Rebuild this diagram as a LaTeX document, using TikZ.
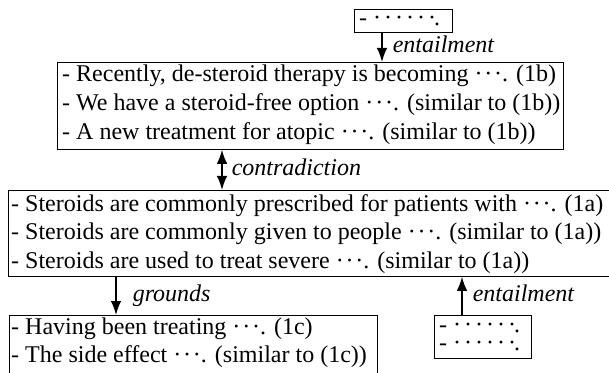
\documentclass[tikz,border=0pt]{standalone}
\usepackage{fontspec}
\setmainfont{Liberation Serif}
\usetikzlibrary{arrows.meta}
\newcommand\mydots{·\kern1.8pt·\kern1.8pt·}
\newcommand\sdot{·\kern3pt}
\newcommand\smalldots{- \sdot\sdot\sdot\sdot\sdot·\kern-2pt.}
\begin{document}
\begin{tikzpicture}[x=1pt,y=1pt,
  box/.style={draw, line width=0.8pt, inner sep=0pt, anchor=north west},
  txt/.style={font=\fontsize{24}{29}\selectfont, inner sep=0pt, anchor=base west},
  dtxt/.style={txt, text height=8pt, text depth=1pt},
  lbl/.style={font=\fontsize{24}{29}\selectfont\itshape, inner sep=0pt, anchor=base west, yshift=-5.5pt},
  arr/.style={line width=1.5pt, -{Latex[length=14pt,width=10.5pt]}},
  darr/.style={line width=1.5pt, {Latex[length=14pt,width=10.5pt]}-{Latex[length=14pt,width=10.5pt]}}]
\useasboundingbox (0,0) rectangle (609,372);
\clip (0,0) rectangle (609,372);
% boxes
\node[box, minimum width=98pt, minimum height=23pt] (top) at (354,363) {};
\node[box, minimum width=506pt, minimum height=87pt] (b1) at (57,310) {};
\node[box, minimum width=640pt, minimum height=86pt] (b2) at (8,182) {};
\node[box, minimum width=368pt, minimum height=90pt] (b3) at (9,57) {};
\node[box, minimum width=97pt, minimum height=43pt] (br) at (434,57) {};
% texts
\node[dtxt] (t0) at (359,346) {\smalldots};
\node[txt] (t11) at (62,290) {- Recently, de-steroid therapy is becoming \mydots. (1b)};
\node[txt] (t12) at (62,261) {- We have a steroid-free option \mydots. (similar to (1b))};
\node[txt] (t13) at (62,232) {- A new treatment for atopic \mydots. (similar to (1b))};
\node[txt] (t21) at (11,160) {- Steroids are commonly prescribed for patients with \mydots. (1a)};
\node[txt] (t22) at (11,132) {- Steroids are commonly given to people \mydots. (similar to (1a))};
\node[txt] (t23) at (11,104) {- Steroids are used to treat severe \mydots. (similar to (1a))};
\node[txt] (t31) at (11,38) {- Having been treating \mydots. (1c)};
\node[txt] (t32) at (11,10) {- The side effect \mydots. (similar to (1c))};
\node[txt] (t4) at (439,40) {\fontsize{24}{18}\selectfont\begin{tabular}[t]{@{}l@{}}\smalldots\\\smalldots\end{tabular}};
% arrow x positions
\coordinate (xa) at (382,0);
\coordinate (xb) at (222,0);
\coordinate (xc) at (116,0);
\coordinate (xd) at (462,0);
% connectors
\draw[arr] (top.south -| xa) -- node[lbl, xshift=10pt] {entailment} (b1.north -| xa);
\draw[darr] (b1.south -| xb) -- node[lbl, xshift=9pt] {contradiction} (b2.north -| xb);
\draw[arr] (b2.south -| xc) -- node[lbl, xshift=16pt] {grounds} (b3.north -| xc);
\draw[arr] (br.north -| xd) -- node[lbl, xshift=10pt] {entailment} (b2.south -| xd);
\end{tikzpicture}
\end{document}
